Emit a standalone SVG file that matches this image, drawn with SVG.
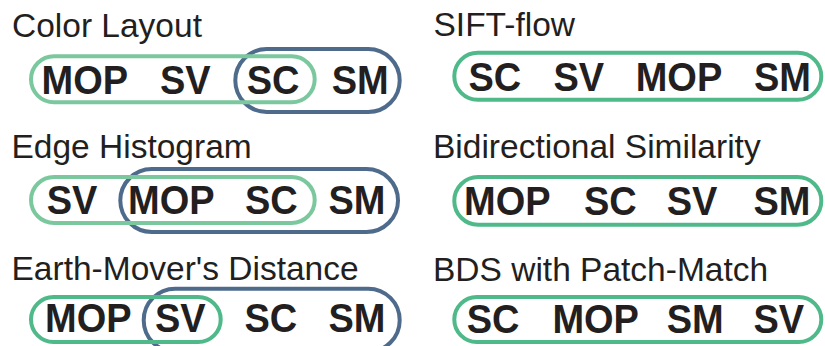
<svg xmlns="http://www.w3.org/2000/svg" width="825" height="346" viewBox="0 0 825 346">
<style>
.t{font-family:"Liberation Sans",Arial,sans-serif;font-size:33.5px;fill:#231f20}
.l{font-family:"Liberation Sans",Arial,sans-serif;font-size:40px;font-weight:bold;fill:#231f20}
.g1{fill:none;stroke:#7cc89e;stroke-width:4}
.g2{fill:none;stroke:#50b98a;stroke-width:4}
.b{fill:none;stroke:#4f6b8c;stroke-width:4}
</style>
<rect width="825" height="346" fill="#fff"/>
<g id="color-layout">
<text class="t" x="12" y="36.5">Color Layout</text>
<rect class="b" x="235.3" y="49" width="164.4" height="63" rx="31.5"/>
<rect class="g1" x="31" y="56.3" width="283.7" height="46" rx="23"/>
<text class="l" transform="translate(41.5,94.3) scale(0.95,1)">MOP</text>
<text class="l" transform="translate(160,94.3) scale(0.95,1)">SV</text>
<text class="l" transform="translate(246.7,94.3) scale(0.95,1)">SC</text>
<text class="l" transform="translate(331.7,94.3) scale(0.95,1)">SM</text>
</g>
<g id="edge-histogram">
<text class="t" x="11.5" y="157.5">Edge Histogram</text>
<rect class="b" x="120.3" y="169" width="277.7" height="63" rx="31.5"/>
<rect class="g1" x="31" y="177" width="283.7" height="46" rx="23"/>
<text class="l" transform="translate(46.7,213.5) scale(0.95,1)">SV</text>
<text class="l" transform="translate(128,213.5) scale(0.95,1)">MOP</text>
<text class="l" transform="translate(245,213.5) scale(0.95,1)">SC</text>
<text class="l" transform="translate(328.4,213.5) scale(0.95,1)">SM</text>
</g>
<g id="earth-movers-distance">
<text class="t" x="11.5" y="280">Earth-Mover's Distance</text>
<rect class="b" x="143.7" y="288.7" width="256" height="63" rx="31.5"/>
<rect class="g2" x="31" y="297" width="189.7" height="45" rx="22.5"/>
<text class="l" transform="translate(45,331.7) scale(0.95,1)">MOP</text>
<text class="l" transform="translate(155,331.7) scale(0.95,1)">SV</text>
<text class="l" transform="translate(244.4,331.7) scale(0.95,1)">SC</text>
<text class="l" transform="translate(328.4,331.7) scale(0.95,1)">SM</text>
</g>
<g id="sift-flow">
<text class="t" x="433.5" y="36">SIFT-flow</text>
<rect class="g2" x="454.3" y="52.7" width="367" height="47" rx="23.5"/>
<text class="l" transform="translate(468.4,91) scale(0.95,1)">SC</text>
<text class="l" transform="translate(553.4,91) scale(0.95,1)">SV</text>
<text class="l" transform="translate(635.7,91) scale(0.95,1)">MOP</text>
<text class="l" transform="translate(754,91) scale(0.95,1)">SM</text>
</g>
<g id="bidirectional-similarity">
<text class="t" x="433" y="158">Bidirectional Similarity</text>
<rect class="g2" x="454.3" y="177" width="367" height="47.7" rx="23.8"/>
<text class="l" transform="translate(464.1,215) scale(0.95,1)">MOP</text>
<text class="l" transform="translate(584,215) scale(0.95,1)">SC</text>
<text class="l" transform="translate(666.7,215) scale(0.95,1)">SV</text>
<text class="l" transform="translate(753.4,215) scale(0.95,1)">SM</text>
</g>
<g id="bds-patch-match">
<text class="t" x="433" y="280.5">BDS with Patch-Match</text>
<rect class="g2" x="454.3" y="297" width="367" height="45" rx="22.5"/>
<text class="l" transform="translate(466.7,333) scale(0.95,1)">SC</text>
<text class="l" transform="translate(552.4,333) scale(0.95,1)">MOP</text>
<text class="l" transform="translate(666.7,333) scale(0.95,1)">SM</text>
<text class="l" transform="translate(753.4,333) scale(0.95,1)">SV</text>
</g>
<g id="connectors"/>
</svg>
